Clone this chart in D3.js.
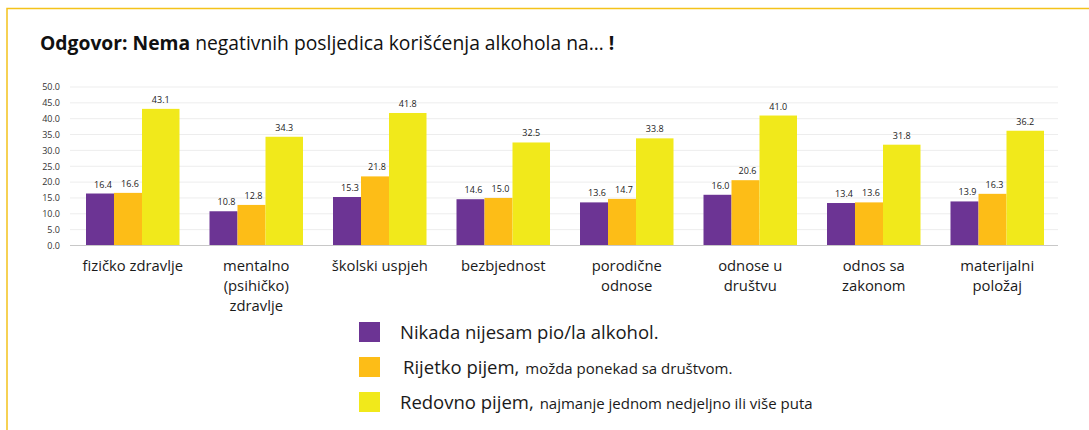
<!DOCTYPE html>
<html>
<head>
<meta charset="utf-8">
<script src="https://cdn.jsdelivr.net/npm/d3@7"></script>
<style>
  html, body { margin: 0; padding: 0; background: #fff; }
  svg { display: block; font-family: "Open Sans", Lato, sans-serif; }
</style>
</head>
<body>
<svg id="chart" width="1089" height="430"></svg>
<script>
// ---- data ----
const categories = [
  ["fizičko zdravlje"],
  ["mentalno", "(psihičko)", "zdravlje"],
  ["školski uspjeh"],
  ["bezbjednost"],
  ["porodične", "odnose"],
  ["odnose u", "društvu"],
  ["odnos sa", "zakonom"],
  ["materijalni", "položaj"]
];
const nikada  = [16.4, 10.8, 15.3, 14.6, 13.6, 16.0, 13.4, 13.9];
const rijetko = [16.6, 12.8, 21.8, 15.0, 14.7, 20.6, 13.6, 16.3];
const redovno = [43.1, 34.3, 41.8, 32.5, 33.8, 41.0, 31.8, 36.2];
const yTicks = [0, 5, 10, 15, 20, 25, 30, 35, 40, 45, 50];
const legendMain = ["Nikada nijesam pio/la alkohol.", "Rijetko pijem,", "Redovno pijem,"];
const legendSub = ["", "možda ponekad sa društvom.", "najmanje jednom nedjeljno ili više puta"];

// ---- styles ----
const colors = ["#6C3494", "#FDBD17", "#F1E91B"];
const series = [nikada, rijetko, redovno];

const svg = d3.select("#chart");

// frame
svg.append("path")
  .attr("d", "M7,430 L7,8.5 L1089,8.5")
  .attr("fill", "none")
  .attr("stroke", "#F4C21B")
  .attr("stroke-width", 1.5);

// title
const title = svg.append("text").attr("x", 40).attr("y", 50)
  .attr("font-size", 19.3).attr("fill", "#111");
title.append("tspan").attr("font-weight", "bold").text("Odgovor: Nema");
title.append("tspan").text(" negativnih posljedica korišćenja alkohola na… ");
title.append("tspan").attr("font-weight", "bold").text("!");

// scales
const plotLeft = 70, plotRight = 1058;
const x = d3.scaleBand().domain(d3.range(categories.length)).range([plotLeft, plotRight]).padding(0);
const y = d3.scaleLinear().domain([0, 50]).range([245.5, 87]);

// gridlines
svg.append("g").selectAll("line").data(yTicks.filter(t => t > 0)).join("line")
  .attr("x1", plotLeft).attr("x2", plotRight)
  .attr("y1", d => y(d)).attr("y2", d => y(d))
  .attr("stroke", "#EDEDED").attr("stroke-width", 1);

// y axis labels
const yAxis = d3.axisLeft(y).tickValues(yTicks).tickFormat(d3.format(".1f")).tickSize(0).tickPadding(10);
const gy = svg.append("g").attr("transform", `translate(${plotLeft},0)`).call(yAxis);
gy.select(".domain").remove();
gy.selectAll("text").attr("font-size", 9).attr("fill", "#333").attr("font-family", "'Open Sans', sans-serif");

// bars: offsets/widths as fractions of band
const bw = x.bandwidth();
const offs = [16 / 123.5, 44 / 123.5, 72 / 123.5];
const widths = [28 / 123.5, 28 / 123.5, 37.5 / 123.5];

series.forEach((vals, si) => {
  const g = svg.append("g");
  g.selectAll("rect").data(vals).join("rect")
    .attr("x", (d, i) => x(i) + offs[si] * bw)
    .attr("width", widths[si] * bw)
    .attr("y", d => y(d))
    .attr("height", d => y(0) - y(d))
    .attr("fill", colors[si]);
  g.selectAll("text").data(vals).join("text")
    .attr("x", (d, i) => x(i) + (offs[si] + widths[si] / 2) * bw + (si === 0 ? 3 : si === 1 ? 2 : 0))
    .attr("y", d => y(d) - 6)
    .attr("text-anchor", "middle")
    .attr("font-size", 9)
    .attr("fill", "#222")
    .text(d => d3.format(".1f")(d));
});

// x axis line
svg.append("line").attr("x1", plotLeft).attr("x2", plotRight)
  .attr("y1", y(0)).attr("y2", y(0)).attr("stroke", "#C8C8C8").attr("stroke-width", 1.2);

// category labels
const catG = svg.append("g");
categories.forEach((lines, i) => {
  lines.forEach((ln, j) => {
    catG.append("text")
      .attr("x", x(i) + bw / 2 + 1)
      .attr("y", 270.5 + j * 20.3)
      .attr("text-anchor", "middle")
      .attr("font-size", 14.8)
      .attr("fill", "#1a1a1a")
      .text(ln);
  });
});

// legend
const legY = [322, 357, 392];
const leg = svg.append("g");
legendMain.forEach((txt, i) => {
  leg.append("rect").attr("x", 359).attr("y", legY[i]).attr("width", 21).attr("height", 20)
    .attr("fill", colors[i]);
  const t = leg.append("text").attr("x", i === 1 ? 403 : 400).attr("y", legY[i] + 17)
    .attr("font-size", 18.5).attr("fill", "#1a1a1a");
  t.append("tspan").text(txt);
  if (legendSub[i]) t.append("tspan").attr("font-size", 15).attr("dx", 2).text(" " + legendSub[i]);
});
</script>
</body>
</html>
